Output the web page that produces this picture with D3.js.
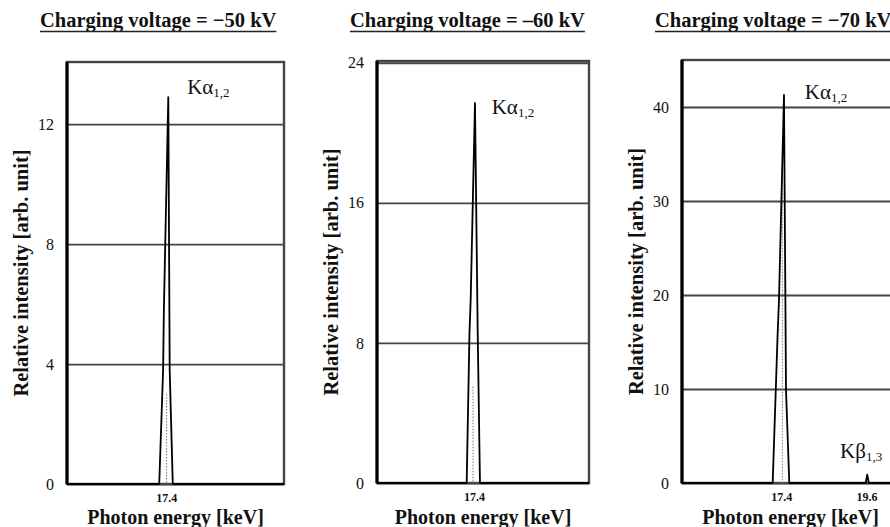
<!DOCTYPE html>
<html>
<head>
<meta charset="utf-8">
<script src="https://cdn.jsdelivr.net/npm/d3@7"></script>
<style>
  body { margin: 0; background: #fff; }
  text { font-family: "Liberation Serif", "Times New Roman", serif; fill: #111; }
</style>
</head>
<body>
<div id="chart"></div>
<script>
// window size
const width = 890;
const height = 527;

// --- data ---
const titles = ["Charging voltage = \u221250 kV", "Charging voltage = \u201360 kV", "Charging voltage = \u221270 kV"];
const energyDomain = [14.84, 20.44];
const yMax = [14.07, 24.1, 45];
const yTicks = [[0, 4, 8, 12], [0, 8, 16, 24], [0, 10, 20, 30, 40]];
const xTicks = [[17.4], [17.4], [17.4, 19.6]];

// spectra (energy in keV, relative intensity)
const spec50E = [14.84, 17.22, 17.32, 17.34, 17.454, 17.49, 17.57, 20.44];
const spec50I = [0, 0, 3.8, 5.8, 12.9, 3.8, 0, 0];
const spec60E = [14.84, 17.209, 17.283, 17.315, 17.428, 17.50, 17.56, 20.44];
const spec60I = [0, 0, 8.6, 10.5, 21.7, 8.6, 0, 0];
const spec70E = [14.84, 17.18, 17.305, 17.343, 17.472, 17.524, 17.609, 19.58, 19.62, 19.66, 20.44];
const spec70I = [0, 0, 15.5, 19.5, 41.3, 9.9, 0, 0, 0.9, 0, 0];

// faint dotted line inside each peak
const innerE = [17.41, 17.376, 17.43];
const innerTop = [3.0, 5.5, 33];

// peak labels
const kaLabels = [["K\u03b1", "1,2"], ["K\u03b1", "1,2"], ["K\u03b1", "1,2"]];
const kaLabelE = [17.94, 17.87, 18.01];
const kaLabelI = [13.0, 21.1, 40.9];
const kbLabel = ["K\u03b2", "1,3"];
const kbLabelE = 18.92;
const kbLabelI = 2.66;

const spectra = [
  spec50E.map((e, i) => ({ e, v: spec50I[i] })),
  spec60E.map((e, i) => ({ e, v: spec60I[i] })),
  spec70E.map((e, i) => ({ e, v: spec70I[i] }))
];

// frame boxes of the three panels
const boxes = [
  { left: 67, right: 284, top: 62, bottom: 484 },
  { left: 377, right: 589, top: 61, bottom: 483 },
  { left: 682, right: 899, top: 60, bottom: 483 }
];

const svg = d3.select("#chart")
  .append("svg")
  .attr("width", width)
  .attr("height", height);

boxes.forEach((b, p) => {
  const w = b.right - b.left;
  const h = b.bottom - b.top;
  const g = svg.append("g").attr("transform", `translate(${b.left},${b.top})`);

  const x = d3.scaleLinear().domain(energyDomain).range([0, w]);
  const y = d3.scaleLinear().domain([0, yMax[p]]).range([h, 0]);

  // y grid + labels
  const yAxis = g.append("g")
    .call(d3.axisLeft(y).tickValues(yTicks[p]).tickSize(-w).tickPadding(13).tickFormat(d3.format("d")));
  yAxis.select(".domain").remove();
  yAxis.selectAll("line").attr("stroke", "#444").attr("stroke-width", 1.8);
  yAxis.selectAll("text")
    .style("font-family", "'Liberation Serif', serif")
    .style("font-size", "16px")
    .attr("fill", "#111");

  // x tick labels
  const xAxis = g.append("g")
    .attr("transform", `translate(0,${h})`)
    .call(d3.axisBottom(x).tickValues(xTicks[p]).tickSize(0).tickPadding(9).tickFormat(d3.format(".1f")));
  xAxis.select(".domain").remove();
  xAxis.selectAll("text")
    .style("font-family", "'Liberation Serif', serif")
    .style("font-size", "12px")
    .style("font-weight", "bold")
    .attr("fill", "#111");

  // frame
  g.append("rect")
    .attr("width", w).attr("height", h)
    .attr("fill", "none").attr("stroke", "#444").attr("stroke-width", 2.4);
  g.append("line")
    .attr("x1", 0).attr("x2", 0).attr("y1", 0).attr("y2", h)
    .attr("stroke", "#000").attr("stroke-width", 3.2);

  // dotted inner line
  g.append("line")
    .attr("x1", x(innerE[p])).attr("x2", x(innerE[p]))
    .attr("y1", y(innerTop[p])).attr("y2", y(0))
    .attr("stroke", "#777").attr("stroke-width", 1)
    .attr("stroke-dasharray", "1.5,1.5");

  // spectrum
  const line = d3.line().x(d => x(d.e)).y(d => y(d.v));
  g.append("path")
    .datum(spectra[p])
    .attr("d", line)
    .attr("fill", "none")
    .attr("stroke", "#000")
    .attr("stroke-width", 1.8)
    .attr("stroke-linejoin", "round");

  // peak label
  const ka = g.append("text")
    .attr("x", x(kaLabelE[p])).attr("y", y(kaLabelI[p]))
    .style("font-size", "21px");
  ka.append("tspan").text(kaLabels[p][0]);
  ka.append("tspan").attr("dy", 3).style("font-size", "13px").text(kaLabels[p][1]);

  if (p === 2) {
    const kb = g.append("text")
      .attr("x", x(kbLabelE)).attr("y", y(kbLabelI))
      .style("font-size", "21px");
    kb.append("tspan").text(kbLabel[0]);
    kb.append("tspan").attr("dy", 3).style("font-size", "13px").text(kbLabel[1]);
  }

  // titles (underlined)
  const t = svg.append("text")
    .attr("x", b.left - 27).attr("y", 27)
    .style("font-size", "20.5px")
    .style("font-weight", "bold")
    .text(titles[p]);
  const tl = t.node().getComputedTextLength();
  svg.append("line")
    .attr("x1", b.left - 27).attr("x2", b.left - 27 + tl)
    .attr("y1", 31.5).attr("y2", 31.5)
    .attr("stroke", "#222").attr("stroke-width", 1.5);

  // axis titles
  g.append("text")
    .attr("x", w / 2).attr("y", 524 - b.top)
    .attr("text-anchor", "middle")
    .style("font-size", "20px")
    .style("font-weight", "bold")
    .text("Photon energy [keV]");

  g.append("text")
    .attr("transform", `translate(-39,${h / 2}) rotate(-90)`)
    .attr("text-anchor", "middle")
    .style("font-size", "20.5px")
    .style("font-weight", "bold")
    .text("Relative intensity [arb. unit]");
});
</script>
</body>
</html>
